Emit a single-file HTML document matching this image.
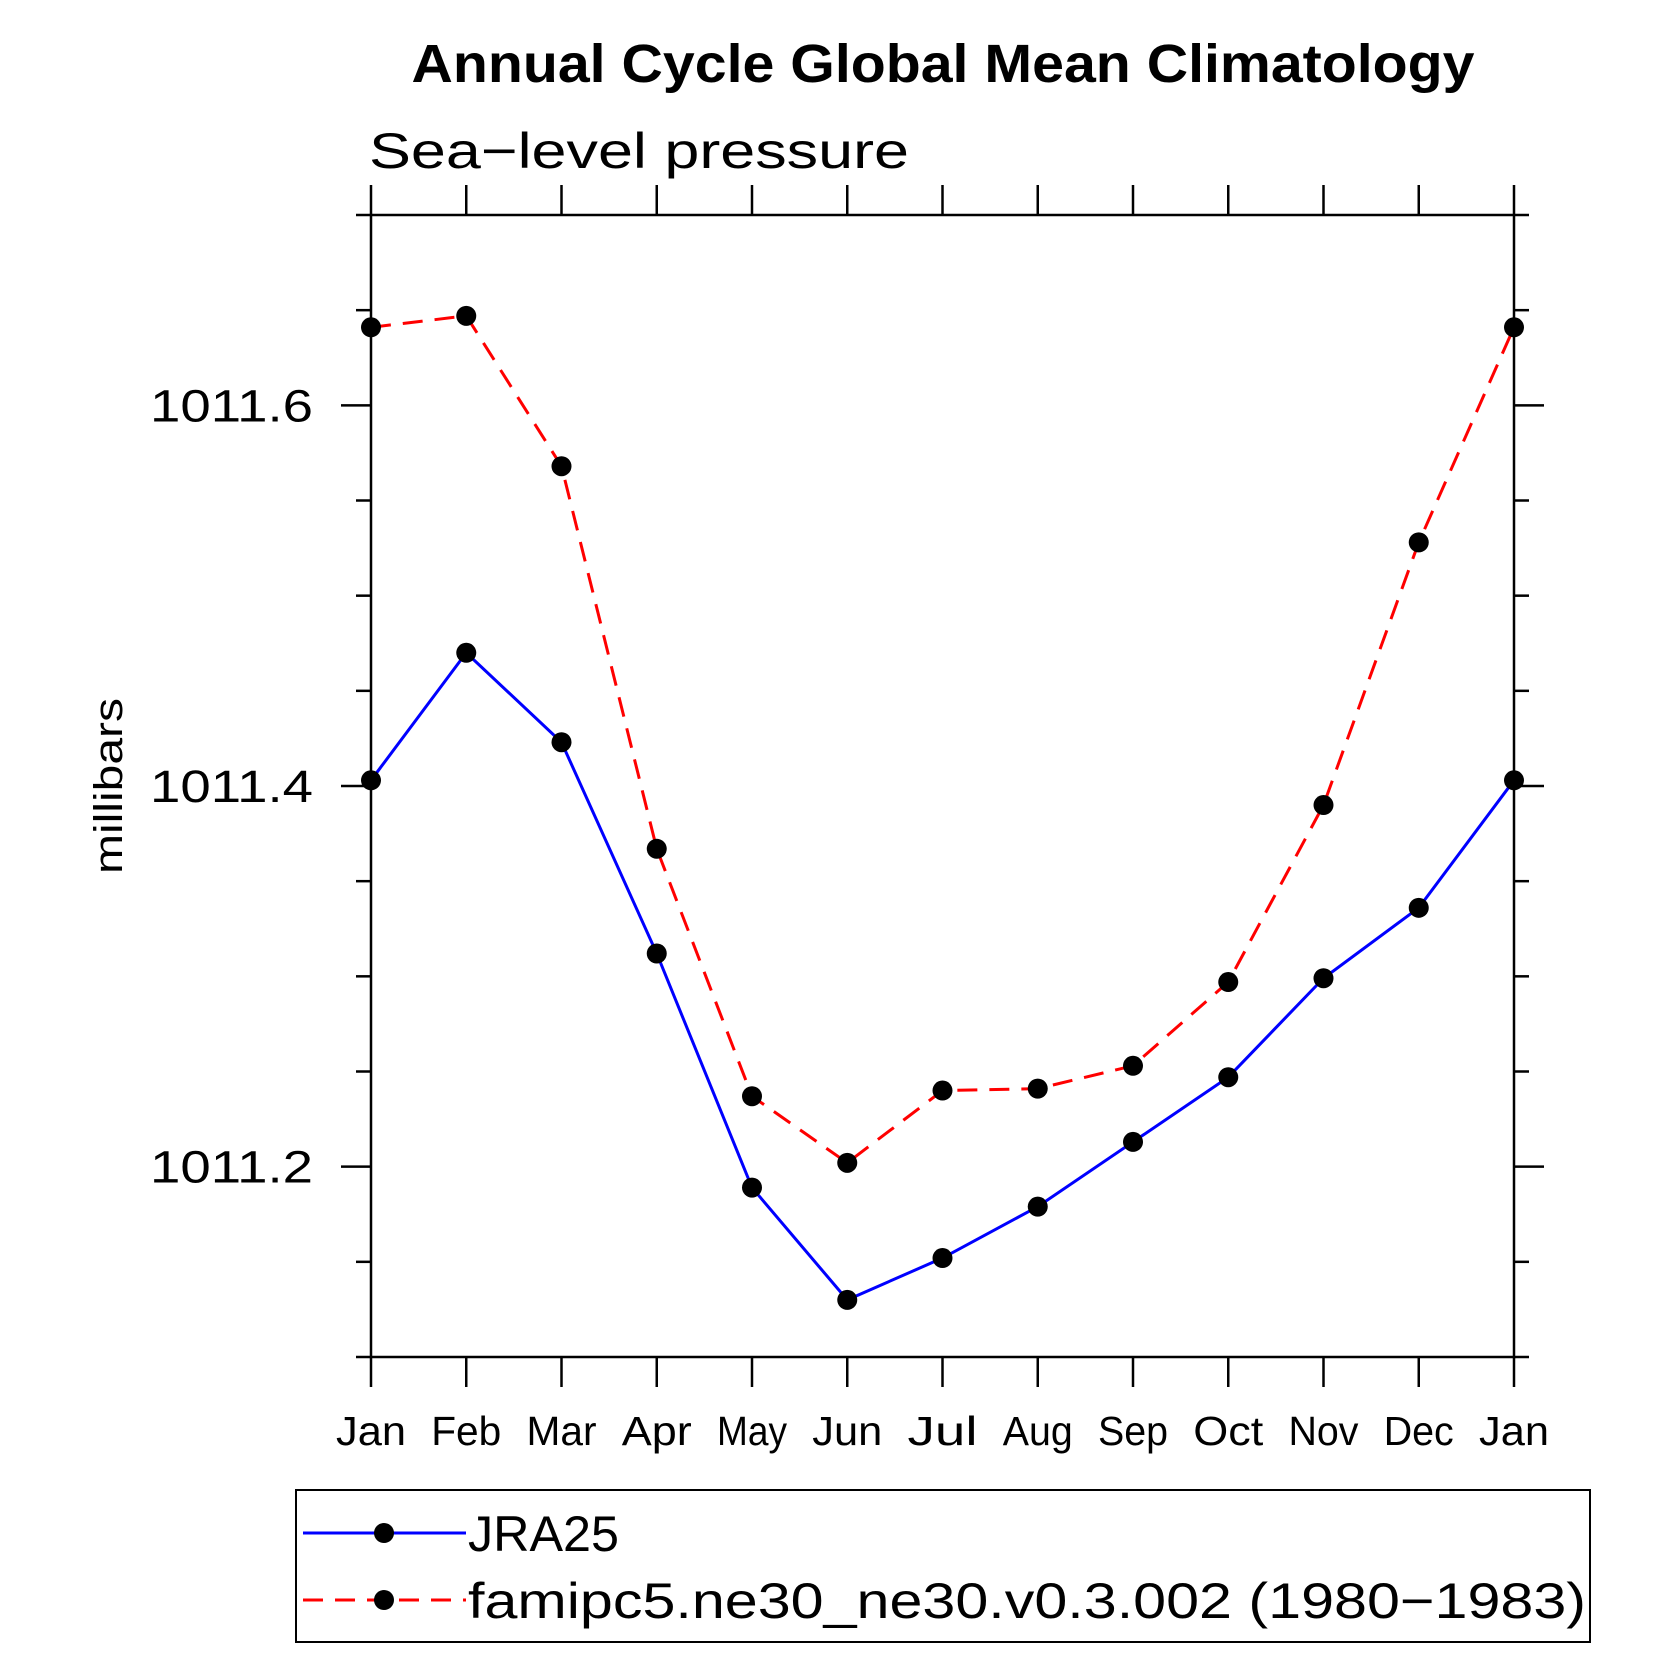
<!DOCTYPE html>
<html><head><meta charset="utf-8"><style>
html,body{margin:0;padding:0;background:#fff;}
svg{display:block;font-family:"Liberation Sans",sans-serif;}
</style></head><body>
<svg id="chart" width="1680" height="1680" viewBox="0 0 1680 1680" xmlns="http://www.w3.org/2000/svg">
<text x="943" y="82" text-anchor="middle" font-size="54" font-weight="bold" textLength="1063" lengthAdjust="spacingAndGlyphs">Annual Cycle Global Mean Climatology</text>
<text x="369" y="168" font-size="50" font-weight="300" textLength="540" lengthAdjust="spacingAndGlyphs">Sea−level pressure</text>
<text transform="translate(122,786) rotate(-90)" text-anchor="middle" font-size="40" textLength="176" lengthAdjust="spacingAndGlyphs">millibars</text>
<g id="axes"></g>
<g id="series"></g>
<g>
<rect x="296" y="1490" width="1294" height="152" fill="none" stroke="#000" stroke-width="2"/>
<g>
<line x1="303" y1="1533" x2="466" y2="1533" stroke="#0000ff" stroke-width="3"/>
<circle cx="384" cy="1533" r="10" fill="#000"/>
<text x="468" y="1551" font-size="50" textLength="151" lengthAdjust="spacingAndGlyphs">JRA25</text>
</g>
<g>
<line x1="303" y1="1600" x2="466" y2="1600" stroke="#ff0000" stroke-width="3" stroke-dasharray="20,12"/>
<circle cx="384" cy="1600" r="10" fill="#000"/>
<text x="468" y="1618" font-size="50" textLength="1118" lengthAdjust="spacingAndGlyphs">famipc5.ne30_ne30.v0.3.002 (1980−1983)</text>
</g>
</g>
</svg>
<script>
const months = ["Jan","Feb","Mar","Apr","May","Jun","Jul","Aug","Sep","Oct","Nov","Dec","Jan"];
const jra25 = [1011.403,1011.470,1011.423,1011.312,1011.189,1011.130,1011.152,1011.179,1011.213,1011.247,1011.299,1011.336,1011.403];
const famipc5 = [1011.641,1011.647,1011.568,1011.367,1011.237,1011.202,1011.240,1011.241,1011.253,1011.297,1011.390,1011.528,1011.641];
const yTickValues = [1011.2,1011.4,1011.6];
const yTickLabels = ["1011.2","1011.4","1011.6"];
const yMin = 1011.1, yMax = 1011.7;

const NS = "http://www.w3.org/2000/svg";
const L = 371, R = 1514, T = 215, B = 1357;
function xs(i){ return L + (R - L) * i / (months.length - 1); }
function ys(v){ return B - (B - T) * (v - yMin) / (yMax - yMin); }
function mk(tag, attrs, parent){
  const e = document.createElementNS(NS, tag);
  for (const k in attrs) e.setAttribute(k, attrs[k]);
  parent.appendChild(e);
  return e;
}
const axes = document.getElementById("axes");
const frame = mk("rect", {x:L, y:T, width:R-L, height:B-T, fill:"none", stroke:"#000", "stroke-width":2.5}, axes);



months.forEach((m, i) => {
  const x = xs(i);
  const t1 = mk("line", {x1:x, y1:T, x2:x, y2:T-30, stroke:"#000", "stroke-width":2.5}, axes);
  
  
  const t2 = mk("line", {x1:x, y1:B, x2:x, y2:B+30, stroke:"#000", "stroke-width":2.5}, axes);
  
  
  const lb = mk("text", {x:x, y:1445, "text-anchor":"middle", "font-size":41, textLength:70, lengthAdjust:"spacingAndGlyphs"}, axes);
  lb.textContent = m;
  
  
});

for (let k = 0; k <= 12; k++) {
  const v = yMin + k * 0.05;
  const y = ys(v);
  const major = yTickValues.some(t => Math.abs(t - v) < 1e-6);
  const len = major ? 30 : 15;
  const a = mk("line", {x1:L, y1:y, x2:L-len, y2:y, stroke:"#000", "stroke-width":2.5}, axes);
  
  
  const b = mk("line", {x1:R, y1:y, x2:R+len, y2:y, stroke:"#000", "stroke-width":2.5}, axes);
  
  
}
yTickValues.forEach((v, i) => {
  const t = mk("text", {x:313, y:ys(v)+16, "text-anchor":"end", "font-size":45, textLength:163, lengthAdjust:"spacingAndGlyphs"}, axes);
  t.textContent = yTickLabels[i];
  
  
});

const sg = document.getElementById("series");
function drawSeries(vals, color, dash, name){
  const pts = vals.map((v, i) => xs(i) + "," + ys(v)).join(" ");
  const attrs = {points:pts, fill:"none", stroke:color, "stroke-width":3};
  if (dash) attrs["stroke-dasharray"] = dash;
  const pl = mk("polyline", attrs, sg);
  
  
  vals.forEach((v, i) => {
    const c = mk("circle", {cx:xs(i), cy:ys(v), r:10, fill:"#000"}, sg);
    
    
  });
}
drawSeries(famipc5, "#ff0000", "20,12", "famipc5");
drawSeries(jra25, "#0000ff", null, "jra25");
</script>
</body></html>
